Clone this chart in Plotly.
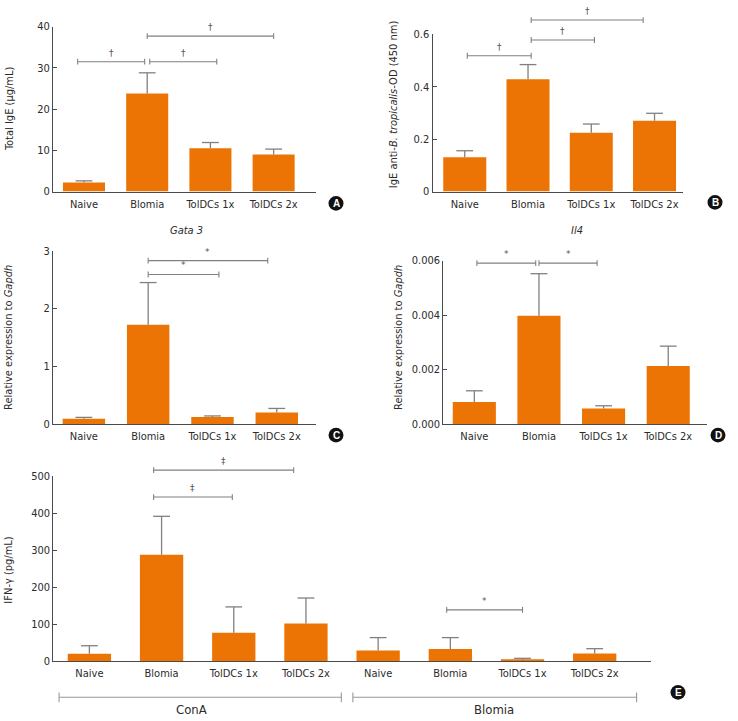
import plotly.graph_objects as go

# ---------------- data ----------------
groups = ["Naive", "Blomia", "TolDCs 1x", "TolDCs 2x"]

a_mean = [2.2, 23.8, 10.5, 9.0]
a_err = [0.4, 5.0, 1.4, 1.3]

b_mean = [0.131, 0.429, 0.225, 0.271]
b_err = [0.025, 0.056, 0.033, 0.028]

c_mean = [0.09, 1.72, 0.12, 0.20]
c_err = [0.025, 0.73, 0.02, 0.07]

d_mean = [0.00081, 0.00398, 0.00057, 0.00213]
d_err = [0.00041, 0.00154, 0.00010, 0.00073]

e_cona_mean = [20, 288, 77, 102]
e_cona_err = [22, 104, 70, 69]
e_blomia_mean = [29, 33, 4, 21]
e_blomia_err = [35, 31, 4, 13]

# significance comparisons: (x start, x end, level, symbol)
a_sig = [(-0.1, 0.96, 31.5, "†"), (1.04, 2.1, 31.5, "†"), (1.0, 3.0, 37.7, "†")]
b_sig = [(0.04, 1.05, 0.519, "†"), (1.05, 2.05, 0.579, "†"), (1.05, 2.82, 0.655, "†")]
c_sig = [(1.0, 2.1, 2.59, "*"), (1.0, 2.86, 2.83, "*")]
d_sig = [(0.04, 0.95, 0.00591, "*"), (1.0, 1.9, 0.00591, "*")]
e_sig = [(0.89, 1.98, 444, "‡"), (0.89, 2.83, 517, "‡"), (4.95, 6.0, 139, "*")]

e_groups = ["ConA", "Blomia"]

# ---------------- styling / layout ----------------
W, H = 738, 721
FONT = "Liberation Sans Narrow, DejaVu Sans Condensed, Arial Narrow, sans-serif"
ORANGE = "#EC7404"
GRAY = "#808080"
AXIS = "#4a4a4a"
TXT = "#2b2b2b"
FS = 11


def px(x):
    return x / W


def py(y):
    return 1 - y / H


fig = go.Figure()
annotations = []
shapes = []

panels = [
    dict(k="", x0=53, x1=316, yt=21, yb=189, xr=[-0.49, 3.67], ymax=40,
         tv=[0, 10, 20, 30, 40], tt=["0", "10", "20", "30", "40"], bw=0.665,
         lab="A", lp=(336, 201)),
    dict(k="2", x0=432.5, x1=683, yt=29, yb=189, xr=[-0.51, 3.45], ymax=0.6,
         tv=[0, 0.2, 0.4, 0.6], tt=["0", "0.2", "0.4", "0.6"], bw=0.68,
         lab="B", lp=(715, 200)),
    dict(k="3", x0=53, x1=316, yt=249.3, yb=425.7, xr=[-0.48, 3.61], ymax=3,
         tv=[0, 1, 2, 3], tt=["0", "1", "2", "3"], bw=0.66,
         lab="C", lp=(336, 437)),
    dict(k="4", x0=443.3, x1=707, yt=259.3, yb=425.7, xr=[-0.48, 3.6], ymax=0.006,
         tv=[0, 0.002, 0.004, 0.006], tt=["0.000", "0.002", "0.004", "0.006"], bw=0.667,
         lab="D", lp=(718, 437)),
    dict(k="5", x0=53.3, x1=651, yt=479, yb=667.3, xr=[-0.50, 7.78], ymax=500,
         tv=[0, 100, 200, 300, 400, 500], tt=["0", "100", "200", "300", "400", "500"], bw=0.6,
         lab="E", lp=(678, 699)),
]

means = [a_mean, b_mean, c_mean, d_mean, e_cona_mean + e_blomia_mean]
errs = [a_err, b_err, c_err, d_err, e_cona_err + e_blomia_err]
sigs = [a_sig, b_sig, c_sig, d_sig, e_sig]
xlabels = [groups, groups, groups, groups, groups + groups]

for p, m, e, s, xl in zip(panels, means, errs, sigs, xlabels):
    xa = "x" + p["k"]
    ya = "y" + p["k"]
    ydom = ya + " domain"
    xs = list(range(len(m)))
    fig.add_trace(go.Bar(
        x=xs, y=m, width=p["bw"], xaxis=xa, yaxis=ya,
        marker=dict(color=ORANGE, line=dict(width=0)),
        error_y=dict(type="data", array=e, arrayminus=[0] * len(e), symmetric=False,
                     width=0, thickness=1.3, color=GRAY),
        showlegend=False, hoverinfo="skip"))
    fig.add_trace(go.Scatter(
        x=xs, y=[a + b for a, b in zip(m, e)], xaxis=xa, yaxis=ya, mode="markers",
        marker=dict(symbol="line-ew", size=12, line=dict(color=GRAY, width=1.3)),
        showlegend=False, hoverinfo="skip", cliponaxis=False))

    # significance brackets (level mapped through the panel's linear y scale)
    tick = 3.0 / (p["yb"] - p["yt"])
    for (s0, s1, lvl, sym) in s:
        yl = lvl / p["ymax"]
        shapes.append(dict(type="line", xref=xa, yref=ydom, x0=s0, x1=s1, y0=yl, y1=yl,
                           line=dict(color=GRAY, width=1.1)))
        for sx in (s0, s1):
            shapes.append(dict(type="line", xref=xa, yref=ydom, x0=sx, x1=sx,
                               y0=yl - tick, y1=yl + tick, line=dict(color=GRAY, width=1.1)))
        annotations.append(dict(x=(s0 + s1) / 2, y=yl, xref=xa, yref=ydom, text=sym,
                                showarrow=False, yshift=9, xanchor="center", yanchor="middle",
                                font=dict(size=9, color="#555", family="DejaVu Sans")))

    xkey = "xaxis" + p["k"]
    ykey = "yaxis" + p["k"]
    fig.layout[xkey] = dict(
        domain=[px(p["x0"]), px(p["x1"])], range=p["xr"], anchor=ya,
        showline=True, linecolor=AXIS, linewidth=1, showgrid=False, zeroline=False,
        tickvals=xs, ticktext=xl, ticks="", ticklabelstandoff=2,
        tickfont=dict(family=FONT, size=FS, color=TXT), fixedrange=True)
    fig.layout[ykey] = dict(
        domain=[py(p["yb"]), py(p["yt"])], range=[0, p["ymax"]], anchor=xa,
        showline=True, linecolor=AXIS, linewidth=1, showgrid=False, zeroline=False,
        tickvals=p["tv"], ticktext=p["tt"], ticks="inside", ticklen=4, tickcolor=AXIS,
        tickfont=dict(family=FONT, size=FS, color=TXT), fixedrange=True)

    # circled panel letter
    cx, cy = p["lp"]
    shapes.append(dict(type="circle", xref="paper", yref="paper",
                       x0=px(cx - 7.5), x1=px(cx + 7.5), y0=py(cy + 7.5), y1=py(cy - 7.5),
                       fillcolor="#111", line=dict(width=0)))
    annotations.append(dict(x=px(cx), y=py(cy), xref="paper", yref="paper", text="<b>%s</b>" % p["lab"],
                            showarrow=False, xanchor="center", yanchor="middle",
                            font=dict(family="Liberation Sans, Arial", size=10, color="white")))

# y-axis titles
ytitles = [
    ("Total IgE (μg/mL)", 9, 105),
    ("IgE anti-<i>B. tropicalis</i>-OD (450 nm)", 393, 100),
    ("Relative expression to <i>Gapdh</i>", 9, 338),
    ("Relative expression to <i>Gapdh</i>", 399, 338),
    ("IFN-γ (pg/mL)", 9, 575),
]
for t, x, y in ytitles:
    annotations.append(dict(x=px(x), y=py(y), xref="paper", yref="paper", text=t,
                            textangle=-90, showarrow=False, xanchor="center", yanchor="middle",
                            font=dict(family=FONT, size=FS, color=TXT)))

# panel titles
for t, x, y in [("<i>Gata 3</i>", 186, 229), ("<i>Il4</i>", 577, 229)]:
    annotations.append(dict(x=px(x), y=py(y), xref="paper", yref="paper", text=t,
                            showarrow=False, xanchor="center", yanchor="middle",
                            font=dict(family=FONT, size=FS, color=TXT)))

# group brackets under panel E
e_spans = [(-0.42, 3.49, 1.42), (3.65, 7.58, 5.61)]
for (g0, g1, gl), name in zip(e_spans, e_groups):
    shapes.append(dict(type="line", xref="x5", yref="paper", x0=g0, x1=g1,
                       y0=py(704), y1=py(704), line=dict(color="#999", width=1.1)))
    for gx in (g0, g1):
        shapes.append(dict(type="line", xref="x5", yref="paper", x0=gx, x1=gx,
                           y0=py(699), y1=py(709), line=dict(color="#999", width=1.1)))
    annotations.append(dict(x=gl, y=py(716), xref="x5", yref="paper", text=name,
                            showarrow=False, xanchor="center", yanchor="middle",
                            font=dict(family=FONT, size=13, color=TXT)))

fig.update_layout(
    width=W, height=H, autosize=False,
    margin=dict(l=0, r=0, t=0, b=0),
    paper_bgcolor="white", plot_bgcolor="white",
    barmode="overlay", showlegend=False,
    annotations=annotations, shapes=shapes,
    font=dict(family=FONT, color=TXT),
)

post = ("document.documentElement.style.margin='0';document.body.style.margin='0';"
        "document.documentElement.style.overflow='hidden';document.body.style.overflow='hidden';"
        "var d=document.getElementById('{plot_id}');d.style.position='fixed';"
        "d.style.top='0px';d.style.left='0px';")

fig.write_html("out.html", config={"displayModeBar": False}, post_script=post)
